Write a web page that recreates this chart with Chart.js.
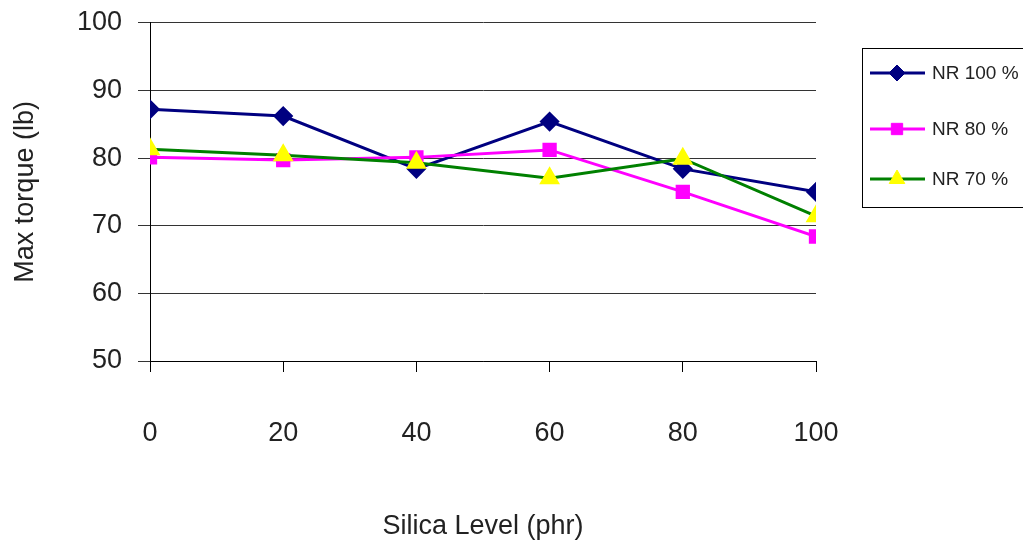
<!DOCTYPE html>
<html>
<head>
<meta charset="utf-8">
<script src="https://cdn.jsdelivr.net/npm/chart.js@4/dist/chart.umd.min.js"></script>
<style>
  html, body { margin: 0; padding: 0; background: #fff; }
  #wrap { position: relative; width: 1023px; height: 545px; }
</style>
</head>
<body>
<div id="wrap"><canvas id="torque-chart"></canvas></div>
<script>
// values
const silicaLevels = [0, 20, 40, 60, 80, 100];
const nr100 = [87.2, 86.2, 78.4, 85.4, 78.4, 75.0];
const nr80 = [80.1, 79.7, 80.1, 81.2, 75.0, 68.4];
const nr70 = [81.3, 80.4, 79.3, 77.0, 79.9, 71.4];
const seriesNames = ['NR 100 %', 'NR 80 %', 'NR 70 %'];

const FONT = "'Liberation Sans', Arial, sans-serif";

function toPoints(vals) {
	return vals.map((v, i) => ({x: silicaLevels[i], y: v}));
}

// simple boxed legend on the right, like the original
const boxLegend = {
	id: 'boxLegend',
	afterDraw(chart) {
		const ctx = chart.ctx;
		const left = 862, top = 48, w = 175, h = 159;
		ctx.save();
		ctx.strokeStyle = '#000';
		ctx.lineWidth = 1;
		ctx.strokeRect(left + 0.5, top + 0.5, w, h);
		const rows = [73, 129, 179];
		chart.data.datasets.forEach((ds, i) => {
			const y = rows[i];
			ctx.strokeStyle = ds.borderColor;
			ctx.lineWidth = 3;
			ctx.beginPath();
			ctx.moveTo(870, y);
			ctx.lineTo(925, y);
			ctx.stroke();
			ctx.fillStyle = ds.pointBackgroundColor;
			ctx.strokeStyle = ds.pointBorderColor;
			ctx.lineWidth = 1;
			Chart.helpers.drawPoint(ctx, {
				pointStyle: ds.pointStyle,
				radius: ds.pointRadius,
				borderWidth: 1
			}, 897, y);
			ctx.fillStyle = '#222';
			ctx.font = '19px ' + FONT;
			ctx.textBaseline = 'middle';
			ctx.fillText(seriesNames[i], 932, y + 1);
		});
		ctx.restore();
	}
};

const data = {
	datasets: [
		{
			label: seriesNames[0],
			data: toPoints(nr100),
			borderColor: '#000080',
			borderWidth: 3,
			pointStyle: 'rectRot',
			pointRadius: 8,
			pointBackgroundColor: '#000080',
			pointBorderColor: '#000080',
			order: 3
		},
		{
			label: seriesNames[1],
			data: toPoints(nr80),
			borderColor: '#FF00FF',
			borderWidth: 3,
			pointStyle: 'rect',
			pointRadius: 8,
			pointBackgroundColor: '#FF00FF',
			pointBorderColor: '#FF00FF',
			order: 2
		},
		{
			label: seriesNames[2],
			data: toPoints(nr70),
			borderColor: '#008000',
			borderWidth: 3,
			pointStyle: 'triangle',
			pointRadius: 9,
			pointBackgroundColor: '#FFFF00',
			pointBorderColor: '#FFFF00',
			order: 1
		}
	]
};

const options = {
	responsive: true,
	maintainAspectRatio: false,
	animation: false,
	layout: {
		padding: {top: 0, right: 207, left: 9, bottom: 2}
	},
	plugins: {
		legend: {display: false},
		tooltip: {enabled: false}
	},
	scales: {
		x: {
			type: 'linear',
			min: 0,
			max: 100,
			afterFit: (scale) => { scale.height = 182; },
			ticks: {
				stepSize: 20,
				padding: 45,
				maxRotation: 0,
				color: '#222',
				font: {family: FONT, size: 27}
			},
			grid: {
				drawOnChartArea: false,
				color: '#000',
				tickLength: 11
			},
			border: {color: '#000'},
			title: {
				display: true,
				text: 'Silica Level (phr)',
				color: '#222',
				font: {family: FONT, size: 27},
				padding: {top: 0, bottom: 0}
			}
		},
		y: {
			min: 50,
			max: 100,
			afterFit: (scale) => { scale.width = 141; },
			ticks: {
				stepSize: 10,
				padding: 16,
				color: '#222',
				font: {family: FONT, size: 27, lineHeight: 0.5}
			},
			grid: {
				color: '#333',
				tickLength: 12
			},
			border: {color: '#000'},
			title: {
				display: true,
				text: 'Max torque (lb)',
				color: '#222',
				font: {family: FONT, size: 27},
				padding: {top: 0, bottom: 0}
			}
		}
	}
};

const canvas = document.getElementById('torque-chart');
const ctx = canvas.getContext('2d');
const myChart = new Chart(ctx, {
	type: 'line',
	data: data,
	options: options,
	plugins: [boxLegend]
});
</script>
</body>
</html>
